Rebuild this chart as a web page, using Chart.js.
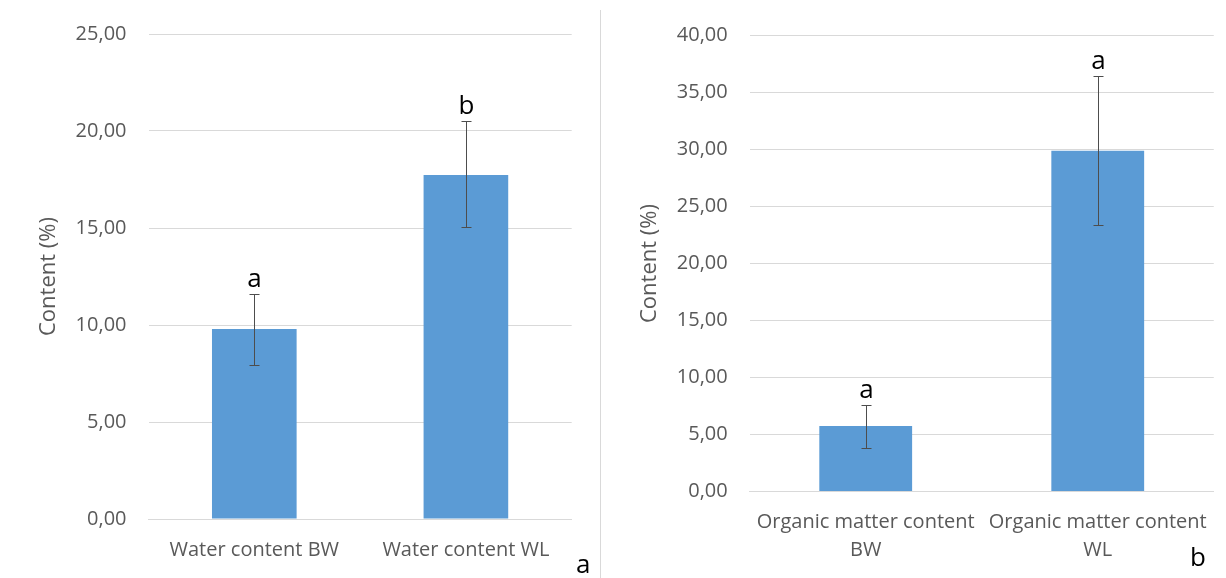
<!DOCTYPE html>
<html>
<head>
<meta charset="utf-8">
<script src="https://cdn.jsdelivr.net/npm/chart.js@4"></script>
<style>
    body { margin: 0; background: #fff; width: 1226px; height: 578px; overflow: hidden; position: relative; font-family: 'Open Sans', sans-serif; }
    .panel { position: absolute; top: 0; height: 578px; }
    .divider { position: absolute; left: 600px; top: 10px; width: 1px; height: 568px; background: #d9d9d9; }
    .tag { position: absolute; font-size: 26px; color: #000; line-height: 1; }
</style>
</head>
<body>
<div class="panel" style="left:0;width:600px;"><canvas id="waterChart"></canvas></div>
<div class="divider"></div>
<div class="panel" style="left:601px;width:625px;"><canvas id="organicChart"></canvas></div>
<div class="tag" style="left:576px;top:550px;">a</div>
<div class="tag" style="left:1190px;top:543px;">b</div>
<script>
// Panel a: water content
const waterLabels = ['Water content BW', 'Water content WL'];
const waterMeans = [9.79, 17.73];
const waterLow = [7.94, 15.05];
const waterHigh = [11.6, 20.5];
const waterLetters = ['a', 'b'];
const waterMax = 25;

// Panel b: organic matter content
const organicLabels = [['Organic matter content', 'BW'], ['Organic matter content', 'WL']];
const organicMeans = [5.73, 29.9];
const organicLow = [3.8, 23.38];
const organicHigh = [7.58, 36.46];
const organicLetters = ['a', 'a'];
const organicMax = 40;

const tickStep = 5;
const barColor = '#5b9bd5';
const textGrey = '#595959';
const gridGrey = '#d9d9d9';

// draws the error bars and significance letters from the data arrays
const errorBarPlugin = {
    id: 'errorBars',
    afterDatasetsDraw(chart, args, opts) {
        const ctx = chart.ctx;
        const x = chart.scales.x;
        const y = chart.scales.y;
        ctx.save();
        ctx.strokeStyle = '#4d4d4d';
        ctx.lineWidth = 1;
        opts.low.forEach(function(lo, i) {
            const px = Math.round(x.getPixelForValue(i)) + 0.5;
            const yLo = Math.round(y.getPixelForValue(lo)) + 0.5;
            const yHi = Math.round(y.getPixelForValue(opts.high[i])) + 0.5;
            ctx.beginPath();
            ctx.moveTo(px, yLo); ctx.lineTo(px, yHi);
            ctx.moveTo(px - 5, yLo); ctx.lineTo(px + 5, yLo);
            ctx.moveTo(px - 5, yHi); ctx.lineTo(px + 5, yHi);
            ctx.stroke();
            ctx.fillStyle = '#000';
            ctx.font = "26px 'Open Sans'";
            ctx.textAlign = 'center';
            ctx.textBaseline = 'alphabetic';
            ctx.fillText(opts.letters[i], px, yHi - 8);
        });
        ctx.restore();
    }
};

function makeChart(id, labels, means, low, high, letters, max, yWidth, pad) {
    new Chart(document.getElementById(id).getContext('2d'), {
        type: 'bar',
        data: {
            labels: labels,
            datasets: [{
                data: means,
                backgroundColor: barColor,
                borderWidth: 0,
                barPercentage: 0.8,
                categoryPercentage: 0.5
            }]
        },
        options: {
            responsive: true,
            maintainAspectRatio: false,
            animation: false,
            layout: { padding: pad },
            plugins: {
                legend: { display: false },
                tooltip: { enabled: false },
                errorBars: { low: low, high: high, letters: letters }
            },
            scales: {
                x: {
                    grid: { display: false, drawTicks: false },
                    border: { display: true, color: gridGrey },
                    ticks: {
                        color: textGrey,
                        font: { family: 'Open Sans', size: 20, lineHeight: 1.4 },
                        padding: 17,
                        maxRotation: 0,
                        autoSkip: false
                    },
                    afterFit: function(s) { s.height = pad.xHeight; }
                },
                y: {
                    min: 0,
                    max: max,
                    grid: { color: gridGrey, drawTicks: false },
                    border: { display: false },
                    ticks: {
                        stepSize: tickStep,
                        color: textGrey,
                        font: { family: 'Open Sans', size: 20 },
                        padding: 22,
                        callback: function(v) { return v.toFixed(2).replace('.', ','); }
                    },
                    title: {
                        display: true,
                        text: 'Content (%)',
                        color: textGrey,
                        font: { family: 'Open Sans', size: 22 },
                        padding: { top: 36, bottom: 0 }
                    },
                    afterFit: function(s) { s.width = yWidth; }
                }
            }
        },
        plugins: [errorBarPlugin]
    });
}

makeChart('waterChart', waterLabels, waterMeans, waterLow, waterHigh, waterLetters, waterMax,
    148.5, { left: 0, right: 28.3, top: 34, bottom: 0, xHeight: 59 });
makeChart('organicChart', organicLabels, organicMeans, organicLow, organicHigh, organicLetters, organicMax,
    148.7, { left: 0, right: 9.2, top: 35.7, bottom: 0, xHeight: 86.6 });
</script>
</body>
</html>
